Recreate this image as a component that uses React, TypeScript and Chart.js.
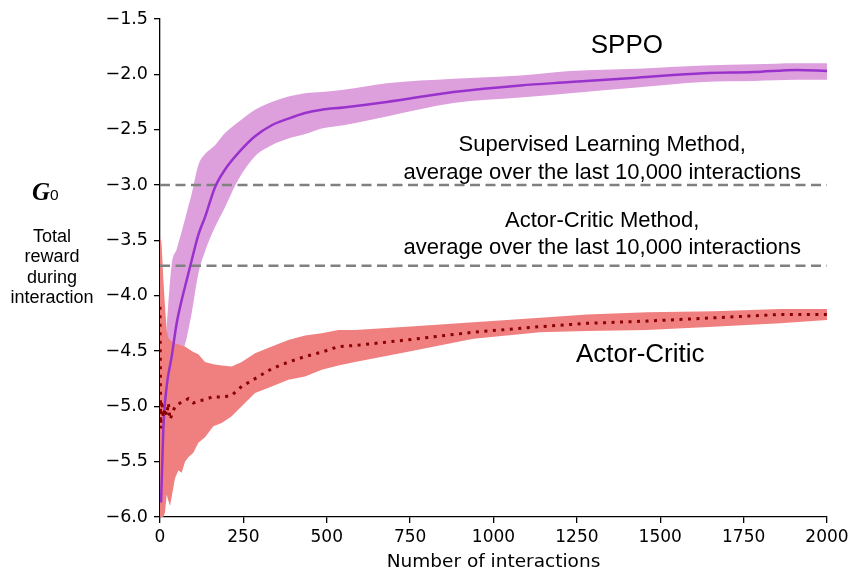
import { useEffect, useRef } from "react";
import { Chart, registerables } from "chart.js";

Chart.register(...registerables);

// SPPO: mean return and its spread band, sampled along the interaction count
const sppoX = [3, 6, 10, 20, 35, 50, 65, 80, 95, 115, 135, 165, 195, 235, 285, 335, 385, 435, 485, 550, 680, 880, 1080, 1230, 1430, 1630, 1780, 1910, 2000];
const sppoMean = [-5.87, -5.6, -5.2, -4.82, -4.55, -4.25, -4.04, -3.86, -3.68, -3.45, -3.29, -3.02, -2.86, -2.71, -2.56, -2.46, -2.4, -2.35, -2.32, -2.3, -2.25, -2.16, -2.1, -2.07, -2.03, -1.99, -1.98, -1.96, -1.97];
const sppoUpper = [-5.3, -5.0, -4.75, -4.3, -3.72, -3.58, -3.42, -3.25, -3.08, -2.82, -2.72, -2.64, -2.53, -2.43, -2.32, -2.25, -2.2, -2.17, -2.16, -2.14, -2.08, -2.04, -2.01, -1.97, -1.95, -1.92, -1.91, -1.9, -1.9];
const sppoLower = [-6.0, -6.0, -5.7, -5.3, -5.0, -4.75, -4.55, -4.38, -4.16, -3.8, -3.6, -3.38, -3.2, -2.95, -2.74, -2.64, -2.58, -2.54, -2.49, -2.46, -2.38, -2.26, -2.21, -2.17, -2.12, -2.07, -2.06, -2.05, -2.05];

// Actor-Critic: mean return and its spread band
const acX = [0, 2, 5, 10, 15, 20, 25, 30, 45, 55, 65, 75, 85, 100, 115, 135, 160, 185, 215, 245, 285, 335, 385, 435, 485, 535, 585, 740, 940, 1140, 1280, 1460, 1660, 1860, 2000];
const acMean = [-4.1, -5.2, -4.95, -5.1, -5.02, -5.08, -4.97, -5.12, -5.0, -4.98, -4.96, -4.95, -4.93, -4.97, -4.95, -4.94, -4.91, -4.92, -4.9, -4.82, -4.75, -4.66, -4.6, -4.55, -4.51, -4.46, -4.45, -4.4, -4.33, -4.28, -4.25, -4.23, -4.2, -4.17, -4.17];
const acUpper = [-3.5, -3.45, -3.55, -3.85, -4.1, -4.31, -4.38, -4.4, -4.43, -4.44, -4.45, -4.46, -4.48, -4.51, -4.53, -4.6, -4.62, -4.63, -4.64, -4.6, -4.52, -4.46, -4.4, -4.36, -4.34, -4.31, -4.31, -4.28, -4.24, -4.2, -4.17, -4.15, -4.14, -4.12, -4.12];
const acLower = [-6.0, -6.0, -6.0, -6.0, -5.96, -5.8, -5.85, -5.9, -5.65, -5.58, -5.6, -5.5, -5.46, -5.42, -5.33, -5.28, -5.18, -5.15, -5.09, -5.0, -4.88, -4.82, -4.76, -4.73, -4.67, -4.63, -4.6, -4.51, -4.39, -4.33, -4.32, -4.31, -4.28, -4.25, -4.22];

// Reference levels: averages over the last 10,000 interactions
const supervisedLevel = -3.0;
const actorCriticLevel = -3.73;
const levelSpan = [0, 2000];

const xStep = 250;
const yStep = 0.5;

const pts = (xs: number[], ys: number[]) => xs.map((x, i) => ({ x, y: ys[i] }));

const SANS = "'Liberation Sans', Arial, sans-serif";
const MPL = "'DejaVu Sans', sans-serif";

const textPlugin = {
  id: "figureText",
  afterDraw(chart: any) {
    const { ctx, scales } = chart;
    const xs = scales.x;
    const ys = scales.y;
    const px = (v: number) => xs.getPixelForValue(v);
    const py = (v: number) => ys.getPixelForValue(v);
    ctx.save();
    ctx.fillStyle = "#000";
    ctx.textAlign = "center";
    ctx.textBaseline = "alphabetic";

    ctx.font = `26px ${SANS}`;
    ctx.fillText("SPPO", px(1400), py(-1.81));
    ctx.fillText("Actor-Critic", px(1440), py(-4.6));

    ctx.font = `22px ${SANS}`;
    ctx.fillText("Supervised Learning Method,", px(1326), py(-2.69));
    ctx.fillText("average over the last 10,000 interactions", px(1326), py(-2.95));
    ctx.fillText("Actor-Critic Method,", px(1326), py(-3.38));
    ctx.fillText("average over the last 10,000 interactions", px(1326), py(-3.62));

    // y-axis caption: G0 and its description
    ctx.textAlign = "left";
    ctx.font = `italic bold 25px 'Liberation Serif', 'Times New Roman', serif`;
    ctx.fillText("G", 32, 200);
    const gw = ctx.measureText("G").width;
    ctx.font = `15.5px ${SANS}`;
    ctx.fillText("0", 32 + gw, 200);

    ctx.textAlign = "center";
    ctx.font = `18px ${SANS}`;
    const lines = ["Total", "reward", "during", "interaction"];
    lines.forEach((t, i) => ctx.fillText(t, 52, 242 + i * 20.3));
    ctx.restore();
  },
};

export default function App() {
  const ref = useRef<HTMLCanvasElement | null>(null);

  useEffect(() => {
    if (!ref.current) return;
    const smooth = { cubicInterpolationMode: "monotone" as const };
    const chart = new Chart(ref.current, {
      type: "line",
      data: {
        datasets: [
          {
            label: "SPPO lower",
            data: pts(sppoX, sppoLower),
            borderWidth: 0,
            pointRadius: 0,
            fill: false,
            order: 10,
            ...smooth,
          },
          {
            label: "SPPO band",
            data: pts(sppoX, sppoUpper),
            borderWidth: 0,
            pointRadius: 0,
            backgroundColor: "#dda0dd",
            fill: 0,
            order: 9,
            ...smooth,
          },
          {
            label: "Actor-Critic lower",
            data: pts(acX, acLower),
            borderWidth: 0,
            pointRadius: 0,
            fill: false,
            order: 8,
          },
          {
            label: "Actor-Critic band",
            data: pts(acX, acUpper),
            borderWidth: 0,
            pointRadius: 0,
            backgroundColor: "#f08080",
            fill: 2,
            order: 7,
          },
          {
            label: "Supervised level",
            data: levelSpan.map((x) => ({ x, y: supervisedLevel })),
            borderColor: "#808080",
            borderWidth: 2.5,
            borderDash: [10, 5.5],
            pointRadius: 0,
            fill: false,
            order: 6,
          },
          {
            label: "Actor-Critic level",
            data: levelSpan.map((x) => ({ x, y: actorCriticLevel })),
            borderColor: "#808080",
            borderWidth: 2.5,
            borderDash: [10, 5.5],
            pointRadius: 0,
            fill: false,
            order: 5,
          },
          {
            label: "SPPO",
            data: pts(sppoX, sppoMean),
            borderColor: "#9932cc",
            borderWidth: 2.5,
            pointRadius: 0,
            fill: false,
            order: 2,
            ...smooth,
          },
          {
            label: "Actor-Critic",
            data: pts(acX, acMean),
            borderColor: "#8b0000",
            borderWidth: 3,
            borderDash: [3, 5.5],
            borderCapStyle: "butt",
            pointRadius: 0,
            fill: false,
            order: 1,
          },
        ],
      },
      options: {
        responsive: false,
        animation: false,
        events: [],
        layout: { padding: { top: 19, right: 27, left: 0, bottom: 0 } },
        plugins: {
          legend: { display: false },
          tooltip: { enabled: false },
        },
        scales: {
          x: {
            type: "linear",
            min: 0,
            max: 2000,
            ticks: {
              stepSize: xStep,
              color: "#000",
              font: { family: MPL, size: 17 },
              padding: 4,
              maxRotation: 0,
              autoSkip: false,
              callback: (v: any) => String(v),
            },
            grid: {
              drawOnChartArea: false,
              drawTicks: true,
              tickLength: 6,
              color: "#000",
              lineWidth: 1.3,
            },
            border: { display: true, color: "#000", width: 1.3 },
            title: {
              display: true,
              text: "Number of interactions",
              color: "#000",
              font: { family: MPL, size: 18.5, lineHeight: 1 },
              padding: { top: 0, bottom: 1 },
            },
            afterFit: (s: any) => {
              s.height = 55;
            },
          },
          y: {
            type: "linear",
            min: -6,
            max: -1.5,
            ticks: {
              stepSize: yStep,
              color: "#000",
              font: { family: MPL, size: 17.5 },
              padding: 6,
              callback: (v: any) => (v < 0 ? "\u2212" : "") + Math.abs(Number(v)).toFixed(1),
            },
            grid: {
              drawOnChartArea: false,
              drawTicks: true,
              tickLength: 6,
              color: "#000",
              lineWidth: 1.3,
            },
            border: { display: true, color: "#000", width: 1.3 },
            afterFit: (s: any) => {
              s.width = 160;
            },
          },
        },
      },
      plugins: [textPlugin],
    });
    return () => chart.destroy();
  }, []);

  return (
    <div style={{ position: "absolute", left: 0, top: 0, width: 854, height: 572, background: "#fff" }}>
      <canvas ref={ref} width={854} height={572} />
    </div>
  );
}
